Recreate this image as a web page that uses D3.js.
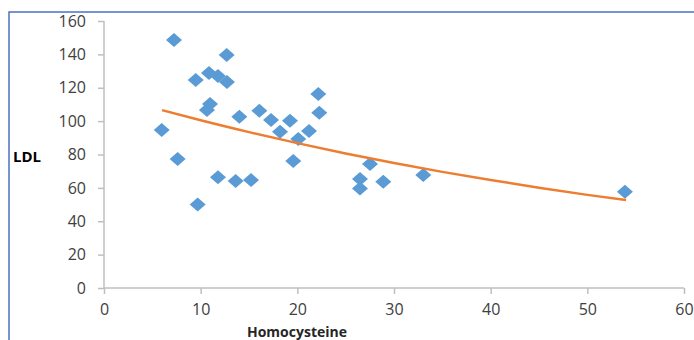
<!DOCTYPE html>
<html>
<head>
<meta charset="utf-8">
<script src="https://cdn.jsdelivr.net/npm/d3@7"></script>
<style>
  body { margin: 0; background: #fff; }
  svg { display: block; }
  .tick text { font-family: "Open Sans", sans-serif; font-size: 16px; fill: #404040; }
</style>
</head>
<body>
<div id="chart"></div>
<script>
// values
var homocysteine = [5.97, 7.24, 7.62, 9.49, 9.69, 10.86, 11.79, 12.72, 12.69, 10.97,
    10.65, 11.79, 13.62, 15.21, 14.0, 16.07, 17.28, 18.21, 19.24, 19.58,
    20.1, 21.21, 22.17, 22.27, 26.48, 26.48, 27.52, 28.89, 33.03, 53.89];
var ldl = [94.7, 148.6, 77.3, 124.6, 50.1, 128.8, 127.0, 123.4, 139.6, 110.2,
    106.6, 66.3, 64.1, 64.7, 102.6, 106.2, 100.7, 93.6, 100.2, 76.1,
    89.3, 94.1, 116.2, 105.0, 65.3, 59.7, 74.3, 63.7, 67.7, 57.7];

// trendline as it appears in the picture
var trendX = [6, 10, 15, 20, 25, 30, 35, 40, 45, 50, 54];
var trendY = [106.6, 100.5, 93.4, 86.8, 80.6, 74.9, 69.6, 64.7, 60.1, 55.8, 52.7];

var xTicks = [0, 10, 20, 30, 40, 50, 60];
var yTicks = [0, 20, 40, 60, 80, 100, 120, 140, 160];

var width = 694, height = 340;
var plotLeft = 104, plotRight = 684, plotTop = 21, plotBottom = 288;

var svg = d3.select('#chart').append('svg')
    .attr('width', width)
    .attr('height', height);

// frame
svg.append('rect')
    .attr('x', 9).attr('y', 12)
    .attr('width', 720).attr('height', 360)
    .attr('fill', 'none')
    .attr('stroke', '#4a72c0')
    .attr('stroke-width', 1.5);

var x = d3.scaleLinear().domain([0, 60]).range([plotLeft, plotRight]);
var y = d3.scaleLinear().domain([0, 160]).range([plotBottom, plotTop]);

var xAxis = svg.append('g')
    .attr('transform', 'translate(0,' + plotBottom + ')')
    .call(d3.axisBottom(x).tickValues(xTicks).tickSize(6).tickPadding(10));

var yAxis = svg.append('g')
    .attr('transform', 'translate(' + plotLeft + ',0)')
    .call(d3.axisLeft(y).tickValues(yTicks).tickSize(6).tickPadding(12));

svg.selectAll('.domain, .tick line')
    .attr('stroke', '#bfbfbf')
    .attr('stroke-width', 1.5);
xAxis.select('.domain').attr('d', 'M' + plotLeft + ',0H' + plotRight);
yAxis.select('.domain').attr('d', 'M0,' + plotTop + 'V' + plotBottom);

// points
var diamond = 'M0,-7L8,0L0,7L-8,0Z';
svg.append('g').selectAll('path')
    .data(homocysteine)
    .enter().append('path')
    .attr('d', diamond)
    .attr('transform', function(d, i){
        return 'translate(' + x(d) + ',' + y(ldl[i]) + ')';
    })
    .attr('fill', '#5b9bd5');

// trendline
var line = d3.line()
    .x(function(d){ return x(d); })
    .y(function(d, i){ return y(trendY[i]); })
    .curve(d3.curveMonotoneX);

svg.append('path')
    .attr('d', line(trendX))
    .attr('fill', 'none')
    .attr('stroke', '#ed7d31')
    .attr('stroke-width', 2.5);

// axis titles
svg.append('text')
    .attr('x', 13).attr('y', 162)
    .attr('font-family', '"Open Sans", sans-serif')
    .attr('font-weight', 'bold')
    .attr('font-size', 15)
    .attr('fill', '#000')
    .text('LDL');

svg.append('text')
    .attr('x', 297).attr('y', 337)
    .attr('text-anchor', 'middle')
    .attr('font-family', '"Open Sans", sans-serif')
    .attr('font-weight', 'bold')
    .attr('font-size', 14)
    .attr('fill', '#262626')
    .text('Homocysteine');
</script>
</body>
</html>
